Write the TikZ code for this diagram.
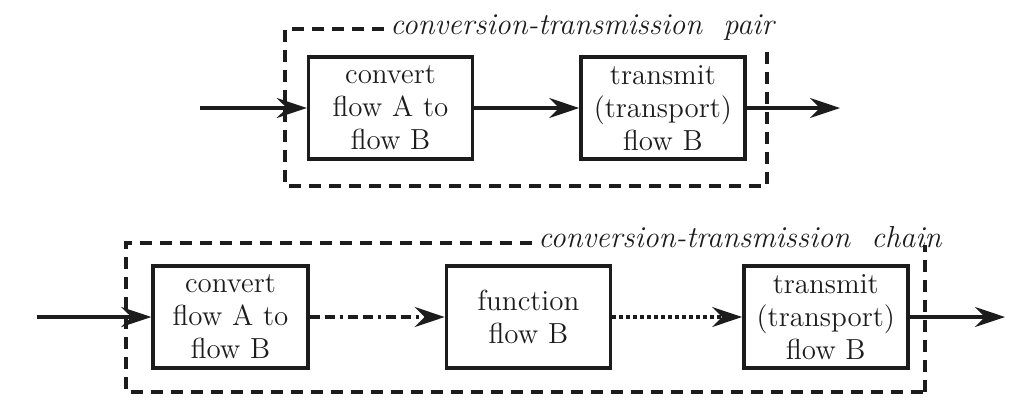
\documentclass[tikz,border=0pt]{standalone}
\usetikzlibrary{arrows.meta,positioning}
\definecolor{Ink}{RGB}{28,28,28}
\tikzset{
  block/.style={draw=Ink,text=Ink,line width=1.7pt,minimum width=82pt,
    minimum height=51pt,text width=76pt,align=center,inner sep=0pt,
    font=\fontsize{14.5}{16.5}\selectfont},
  tag/.style={text=Ink,inner sep=0pt,font=\fontsize{15.2}{18}\selectfont\itshape},
  frame/.style={draw=Ink,line width=1.8pt,dash pattern=on 6pt off 4pt},
  flow/.style={-{Stealth[length=15pt,width=10pt,inset=5pt]},line width=1.6pt,Ink},
  linkdash/.style={flow,dash pattern=on 5pt off 2.5pt on 5pt off 2.5pt on 1.5pt off 2.5pt},
  linkdot/.style={flow,dash pattern=on 2pt off 1.5pt}
}

\begin{document}
\begin{tikzpicture}[x=0.5pt,y=-0.5pt]
  \useasboundingbox (0,0) rectangle (1021,414);
  % conversion-transmission pair
  \node[block] (conv) at (390.5,108) {convert\\flow A to\\flow B};
  \node[block,right=52.5pt of conv] (trans) {transmit\\(transport)\\flow B};
  \coordinate (pairin) at (200,108);
  \coordinate (pairout) at (840,108);
  \draw[flow] (pairin) -- (conv);
  \draw[flow] (conv) -- (trans);
  \draw[flow] (trans) -- (pairout);
  \node[tag,anchor=base west] (pairtag) at (390,34) {conversion-transmission\ \ pair};
  \draw[frame] (384,29) -- (285,29) -- (285,186) -- (767,186) -- (767,45);

  % conversion-transmission chain
  \node[block,minimum width=77.5pt] (conv2) at (230.5,317) {convert\\flow A to\\flow B};
  \node[block,right=67.5pt of conv2] (func) {function\\flow B};
  \node[block,right=65pt of func] (trans2) {transmit\\(transport)\\flow B};
  \coordinate (chainin) at (37,317);
  \coordinate (chainout) at (1005,317);
  \draw[flow] (chainin) -- (conv2);
  \draw[linkdash] (conv2) -- (func);
  \draw[linkdot] (func) -- (trans2);
  \draw[flow] (trans2) -- (chainout);
  \node[tag,anchor=base west] (chaintag) at (538,247) {conversion-transmission\ \ chain};
  \draw[frame] (532,243) -- (126,243) -- (126,392) -- (925,392);
  \draw[frame,line width=2.3pt] (925,392) -- (925,245);
\end{tikzpicture}
\end{document}
